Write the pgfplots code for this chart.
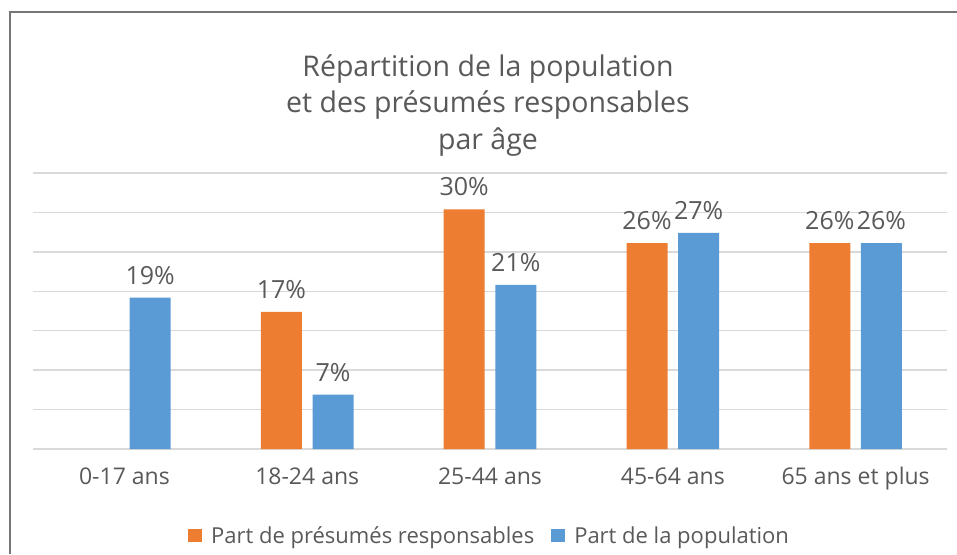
\documentclass[border=0pt]{standalone}
\usepackage{pgfplots}
\pgfplotsset{compat=1.18}
\usepackage{fontspec}
\setmainfont{Open Sans}
\definecolor{cOrange}{HTML}{ED7D31}
\definecolor{cBlue}{HTML}{5B9BD5}
\definecolor{cGrid}{HTML}{D9D9D9}
\definecolor{cText}{HTML}{595959}
\definecolor{cFrame}{HTML}{767676}
\begin{document}
\begin{tikzpicture}
\begin{axis}[
  name=ax,
  scale only axis, width=914pt, height=276pt,
  xmin=-0.5, xmax=4.5, ymin=0, ymax=35,
  ytick={0,5,...,35}, yticklabels={},
  ymajorgrids, grid style={cGrid, line width=1.3pt},
  axis line style={draw=none}, tick style={draw=none},
  xtick={0,1,2,3,4},
  xticklabels={0-17 ans, 18-24 ans, 25-44 ans, 45-64 ans, 65 ans et plus},
  xticklabel style={font=\fontsize{23}{27}\selectfont, text=cText, inner sep=0pt, anchor=north, yshift=-14pt},
  /pgf/number format/assume math mode=true,
  ybar=10.6pt, bar width=41pt,
  nodes near coords={\pgfmathprintnumber[fixed,precision=0]{\pgfplotspointmeta}\%},
  every node near coord/.append style={font=\fontsize{25}{29}\selectfont, text=cText, inner sep=0pt, anchor=south, yshift=13pt},
  legend columns=2,
  legend image code/.code={\fill[#1] (0pt,-6.5pt) rectangle (14pt,6.5pt);},
  legend style={at={(0.4984,-0.315)}, anchor=center, draw=none, fill=none,
    font=\fontsize{22}{26}\selectfont, text=cText,
    nodes={inner sep=0pt},
    /tikz/every odd column/.append style={column sep=9pt},
    /tikz/every even column/.append style={column sep=17pt}},
  clip=false,
]
\addplot[fill=cOrange, draw=none] coordinates {(1,17.4) (2,30.4) (3,26.1) (4,26.1)};
\addplot[fill=cBlue, draw=none] coordinates {(0,19.2) (1,6.9) (2,20.8) (3,27.4) (4,26.1)};
\legend{Part de présumés responsables, Part de la population}
\coordinate (O) at (rel axis cs:0,0);
\end{axis}
\begin{scope}[shift={(O)}, x=1pt, y=1pt]
\draw[cFrame, line width=1.5pt] (10-33,449-554) -- (10-33,449-12) -- (957-33,449-12);
\node[font=\fontsize{28.5}{36}\selectfont, text=cText, anchor=base] at (488-33,449-77) {Répartition de la population};
\node[font=\fontsize{28.5}{36}\selectfont, text=cText, anchor=base] at (488-33,449-113) {et des présumés responsables};
\node[font=\fontsize{28.5}{36}\selectfont, text=cText, anchor=base] at (488-33,449-150) {par âge};
\end{scope}
\pgfresetboundingbox
\begin{scope}[shift={(O)}, x=1pt, y=1pt]
\path[use as bounding box] (-33,449) rectangle (924,-105);
\end{scope}
\end{tikzpicture}
\end{document}
